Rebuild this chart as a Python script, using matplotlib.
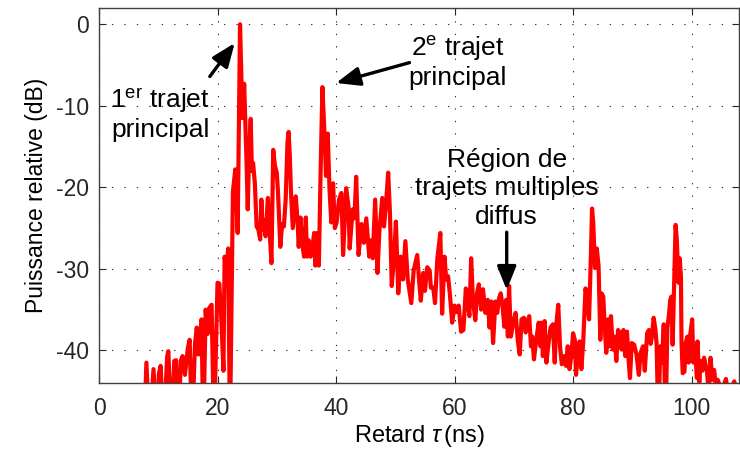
import matplotlib
matplotlib.use('Agg')
import matplotlib.pyplot as plt
import numpy as np

plt.rcParams['font.family'] = ['Liberation Sans', 'DejaVu Sans']
plt.rcParams['mathtext.fontset'] = 'custom'
plt.rcParams['mathtext.rm'] = 'Liberation Sans'
plt.rcParams['mathtext.it'] = 'Liberation Sans:italic'
plt.rcParams['axes.unicode_minus'] = False

# retard (ns) et puissance relative (dB) du profil mesuré
tau = [7.6, 8.0, 8.5, 9.2, 9.7, 10.1, 10.4, 10.9, 11.5, 11.7, 12.2, 12.7, 13.0, 13.4,
       13.8, 14.1, 14.5, 15.0, 15.3, 15.7, 16.2, 16.5, 16.8, 17.3, 17.6, 18.0, 18.3,
       18.6, 19.0, 19.4, 20.0, 20.3, 20.6, 21.0, 21.2, 21.5, 21.8, 22.1, 22.6, 23.0,
       23.4, 23.8, 24.2, 24.5, 24.9, 25.1, 25.3, 25.6, 25.8, 26.0, 26.3, 26.6, 26.9,
       27.2, 27.4, 27.6, 27.8, 28.1, 28.5, 28.8, 29.1, 29.4, 29.7, 30.0, 30.2, 30.4,
       30.6, 30.9, 31.2, 31.5, 31.8, 32.0, 32.2, 32.4, 32.7, 33.2, 33.5, 33.7, 34.0,
       34.3, 34.6, 34.9, 35.1, 35.4, 35.7, 36.0, 36.3, 36.5, 36.8, 37.1, 37.4, 37.7,
       38.1, 38.3, 38.6, 38.9, 39.2, 39.5, 39.8, 40.1, 40.5, 40.9, 41.2, 41.7, 42.1,
       42.3, 42.8, 43.1, 43.4, 43.8, 44.3, 44.7, 45.1, 45.6, 45.9, 46.2, 46.6, 47.0,
       47.3, 47.8, 48.1, 48.4, 48.8, 49.1, 49.4, 49.8, 50.1, 50.5, 50.9, 51.3, 51.7,
       52.1, 52.7, 53.1, 53.7, 54.0, 54.3, 54.7, 55.0, 55.4, 55.8, 56.0, 56.4, 56.7,
       57.1, 57.6, 57.9, 58.3, 58.6, 58.9, 59.2, 59.6, 60.0, 60.4, 60.7, 61.1, 61.5,
       61.9, 62.2, 62.5, 62.8, 63.1, 63.5, 63.8, 64.1, 64.5, 64.8, 65.2, 65.6, 65.9,
       66.2, 66.5, 66.9, 67.2, 67.5, 67.8, 68.1, 68.4, 68.7, 69.0, 69.2, 69.5, 69.9,
       70.3, 70.7, 71.0, 71.3, 71.7, 72.0, 72.3, 72.6, 72.9, 73.1, 73.4, 73.8, 74.2,
       74.5, 74.7, 74.9, 75.2, 75.5, 75.8, 76.2, 76.6, 76.9, 77.2, 77.5, 77.8, 78.1,
       78.5, 78.8, 79.1, 79.4, 79.7, 80.0, 80.3, 80.5, 80.8, 81.1, 81.4, 81.7, 82.1,
       82.4, 82.7, 83.0, 83.2, 83.4, 83.7, 84.0, 84.3, 84.6, 84.8, 85.1, 85.3, 85.6,
       85.9, 86.1, 86.4, 86.7, 87.0, 87.3, 87.6, 87.9, 88.2, 88.5, 88.8, 89.1, 89.4,
       89.6, 89.9, 90.3, 90.7, 91.1, 91.4, 91.8, 92.1, 92.5, 92.8, 93.1, 93.3, 93.6,
       93.9, 94.1, 94.4, 94.7, 95.0, 95.3, 95.6, 95.9, 96.2, 96.4, 96.6, 96.8, 97.0,
       97.3, 97.5, 97.8, 98.0, 98.2, 98.3, 98.5, 98.8, 99.0, 99.3, 99.5, 99.8, 100.1,
       100.3, 100.6, 100.9, 101.0, 101.3, 101.5, 101.8, 102.1, 102.4, 102.6, 102.9,
       103.2, 103.5, 103.8, 104.1, 104.4, 104.7, 105.1, 105.8, 106.1, 106.8, 107.2, 107.6]

puissance = [-50, -41.5, -50, -42.3, -50, -42.9, -41.9, -50, -40.8, -40.1, -50, -41.3, -41.2, -50,
             -41.3, -40.7, -43, -39.7, -38.7, -50, -39.2, -37.2, -40.5, -36.2, -50, -35.0, -38.0,
             -34.8, -34.4, -50, -31.7, -31.8, -35.5, -42.5, -28.5, -30.5, -27.5, -50, -20.5, -17.8,
             -25.6, 0.0, -11.5, -7.3, -17.0, -22.7, -16.6, -11.6, -18.0, -17.0, -19.5, -24.8, -25.2,
             -26.4, -21.5, -25.2, -24.0, -26.0, -21.3, -25.5, -29.3, -15.4, -17.4, -18.2, -20.5, -24.0,
             -27.3, -24.5, -24.8, -21.5, -14.6, -13.2, -16.2, -20.6, -25.0, -21.1, -24.0, -27.3, -23.7,
             -26.9, -28.5, -23.7, -28.5, -26.5, -28.5, -27.5, -25.6, -29.6, -25.6, -29.6, -18.0, -7.7,
             -14.2, -18.6, -13.4, -20.3, -24.3, -19.5, -25.0, -24.3, -21.5, -20.7, -28.3, -20.1, -22.3,
             -27.5, -22.7, -23.8, -18.7, -28.3, -24.5, -26.8, -23.8, -28.5, -26.5, -28.7, -21.5, -30.5,
             -25.5, -21.3, -24.8, -22.3, -18.2, -23.2, -32.1, -28.5, -24.2, -33.0, -28.5, -31.3, -26.6,
             -31.3, -34.2, -30.2, -28.3, -31.3, -33.9, -30.5, -32.7, -29.8, -30.2, -32.3, -32.3, -34.2,
             -28.7, -25.6, -35.5, -28.5, -31.3, -30.9, -33.0, -36.6, -34.5, -35.3, -34.5, -37.7, -37.5,
             -32.4, -33.8, -35.8, -28.7, -33.8, -36.3, -33.0, -31.9, -35.0, -32.5, -35.4, -33.8, -37.2,
             -34.0, -39.1, -34.0, -35.4, -33.6, -33.0, -34.6, -37.1, -33.8, -38.3, -32.1, -38.3, -36.6,
             -35.4, -39.0, -40.5, -36.2, -36.0, -37.8, -36.4, -35.8, -39.5, -38.3, -41.1, -38.6, -36.6,
             -39.5, -36.6, -40.7, -36.4, -41.5, -39.5, -37.2, -36.8, -41.5, -36.6, -34.4, -39.5, -41.7,
             -40.7, -41.9, -39.5, -42.3, -40.7, -37.9, -38.7, -43.0, -40.5, -38.9, -42.3, -39.1, -32.4,
             -33.8, -36.2, -28.5, -22.6, -24.3, -29.9, -27.5, -29.6, -38.7, -33.0, -33.4, -36.6, -40.3,
             -36.2, -39.5, -35.8, -39.9, -38.3, -41.3, -37.5, -37.9, -39.9, -37.5, -40.7, -37.7, -41.5,
             -43.4, -39.1, -39.3, -40.5, -43.0, -40.3, -39.5, -42.5, -37.9, -37.5, -39.2, -38.3, -36.0,
             -37.5, -39.2, -50, -39.5, -41.5, -36.8, -50, -37.3, -35.5, -33.8, -33.4, -39.3, -33.4,
             -24.6, -26.4, -31.7, -28.7, -31.0, -39.0, -42.8, -42.6, -39.1, -38.3, -41.5, -37.9, -36.2,
             -41.5, -40.0, -43.4, -38.9, -43.9, -41.3, -42.5, -40.9, -41.9, -42.7, -45.0,
             -40.9, -43.6, -42.4, -44.5, -43.6, -44.2, -45.0, -43.5, -45.0, -44.5, -43.8, -45.0]

xticks = [0, 20, 40, 60, 80, 100]
yticks = [-40, -30, -20, -10, 0]

fig = plt.figure(figsize=(7.4, 4.55), dpi=100)
ax = fig.add_axes([99 / 740, 72 / 455, 640 / 740, 375 / 455])

ax.plot(tau, puissance, color='#ff0000', lw=3.0, solid_joinstyle='round')

ax.set_xlim(0, 108)
ax.set_ylim(-44, 2)
ax.set_xticks(xticks)
ax.set_yticks(yticks)
ax.grid(True, color='0.2', lw=0.8, ls=(0, (1.2, 10)))
ax.tick_params(direction='in', top=True, right=True, length=5, width=0.8,
               labelsize=16.5, colors='0.15')
ax.tick_params(axis='x', pad=10)
ax.tick_params(axis='y', pad=7)
for s in ax.spines.values():
    s.set_color('0.25')
    s.set_linewidth(1.0)

ax.set_xlabel(r'Retard $\tau\,$(ns)', fontsize=17, labelpad=2)
ax.set_ylabel('Puissance relative (dB)', fontsize=16.5, labelpad=6)

fleche = dict(arrowstyle='-|>,head_length=0.6,head_width=0.24', color='k', lw=2.4,
              mutation_scale=24, shrinkA=0, shrinkB=0)
fs = 19

ax.annotate('', xy=(22.9, -2.3), xytext=(18.7, -6.4), arrowprops=fleche)
ax.text(10.3, -9.4, '1$^{\\mathrm{er}}$ trajet', fontsize=fs, ha='center', va='center')
ax.text(10.3, -13.0, 'principal', fontsize=fs, ha='center', va='center')

ax.annotate('', xy=(40.0, -7.2), xytext=(52.4, -4.7), arrowprops=fleche)
ax.text(60.5, -3.0, '2$^{\\mathrm{e}}$ trajet', fontsize=fs, ha='center', va='center')
ax.text(60.5, -6.6, 'principal', fontsize=fs, ha='center', va='center')

ax.annotate('', xy=(68.8, -32.6), xytext=(68.8, -25.5), arrowprops=fleche)
ax.text(68.8, -16.6, 'Région de', fontsize=fs, ha='center', va='center')
ax.text(68.8, -20.1, 'trajets multiples', fontsize=fs, ha='center', va='center')
ax.text(68.8, -23.6, 'diffus', fontsize=fs, ha='center', va='center')

fig.savefig('out.png', dpi=100)
